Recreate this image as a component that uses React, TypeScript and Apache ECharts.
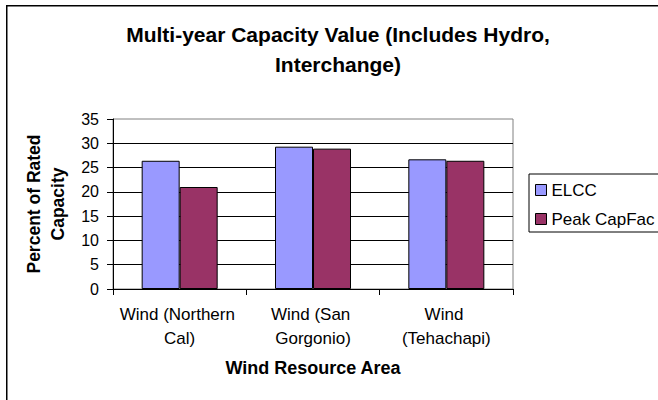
import React, { useEffect, useRef } from "react";
import * as echarts from "echarts";

const titleText = "Multi-year Capacity Value (Includes Hydro,\nInterchange)";
const categories = ["Wind (Northern Cal)", "Wind (San Gorgonio)", "Wind (Tehachapi)"];
const seriesNames = ["ELCC", "Peak CapFac"];
const elccValues = [26.4, 29.3, 26.7];
const peakCapFacValues = [21.0, 28.9, 26.4];
const yAxisName = "Percent of Rated\nCapacity";
const xAxisName = "Wind Resource Area";

const FONT = "'Liberation Sans', Arial, sans-serif";

export default function App() {
  const ref = useRef<HTMLDivElement>(null);
  useEffect(() => {
    if (!ref.current) return;
    const chart = echarts.init(ref.current, undefined, { renderer: "svg" });
    chart.setOption({
      animation: false,
      backgroundColor: "#ffffff",
      textStyle: { fontFamily: FONT, color: "#000" },
      title: {
        text: titleText,
        left: 338,
        top: 19,
        padding: 0,
        textAlign: "center",
        textStyle: {
          fontFamily: FONT,
          fontSize: 21,
          fontWeight: "bold",
          color: "#000",
          lineHeight: 30,
        },
      },
      graphic: [
        {
          type: "rect",
          shape: { x: 6.75, y: 5.75, width: 720, height: 500 },
          style: { fill: "none", stroke: "#000", lineWidth: 1.5 },
          silent: true,
          z: -10,
        },
      ],
      legend: {
        orient: "vertical",
        left: 529,
        top: 174,
        padding: [6, 30, 3, 6],
        itemGap: 9,
        itemWidth: 11,
        itemHeight: 11,
        borderColor: "#000",
        borderWidth: 1,
        icon: "rect",
        itemStyle: { borderColor: "#000", borderWidth: 1 },
        textStyle: { fontFamily: FONT, fontSize: 17, color: "#000", lineHeight: 20 },
        data: seriesNames,
      },
      grid: {
        left: 113,
        top: 119,
        width: 400,
        height: 170,
        show: true,
        borderColor: "#808080",
        borderWidth: 1,
        backgroundColor: "transparent",
      },
      xAxis: {
        type: "category",
        data: categories,
        name: xAxisName,
        nameLocation: "middle",
        nameGap: 67,
        nameTextStyle: { fontFamily: FONT, fontSize: 18, fontWeight: "bold", color: "#000", lineHeight: 24 },
        axisLine: { lineStyle: { color: "#000", width: 1 } },
        axisTick: { show: true, length: 6, interval: 0, lineStyle: { color: "#000" } },
        axisLabel: {
          interval: 0,
          fontFamily: FONT,
          fontSize: 17,
          color: "#000",
          lineHeight: 24,
          margin: 13,
          width: 124,
          overflow: "break",
        },
        splitLine: { show: false },
      },
      yAxis: {
        type: "value",
        min: 0,
        max: 35,
        interval: 5,
        name: yAxisName,
        nameLocation: "middle",
        nameGap: 40,
        nameTextStyle: { fontFamily: FONT, fontSize: 17.5, fontWeight: "bold", color: "#000", lineHeight: 24 },
        axisLine: { show: true, lineStyle: { color: "#000", width: 1 } },
        axisTick: { show: true, length: 6, lineStyle: { color: "#000" } },
        axisLabel: { fontFamily: FONT, fontSize: 16, color: "#000", margin: 14 },
        splitLine: { show: true, showMaxLine: false, lineStyle: { color: "#000", width: 1 } },
      },
      series: [
        {
          name: seriesNames[0],
          type: "bar",
          data: elccValues,
          barGap: "0%",
          barCategoryGap: "43%",
          itemStyle: { color: "#9999FF", borderColor: "#000", borderWidth: 1 },
        },
        {
          name: seriesNames[1],
          type: "bar",
          data: peakCapFacValues,
          barGap: "0%",
          barCategoryGap: "43%",
          itemStyle: { color: "#993366", borderColor: "#000", borderWidth: 1 },
        },
      ],
    });
    return () => chart.dispose();
  }, []);
  return (
    <div
      ref={ref}
      style={{ position: "fixed", left: 0, top: 0, width: 658, height: 400 }}
    />
  );
}
